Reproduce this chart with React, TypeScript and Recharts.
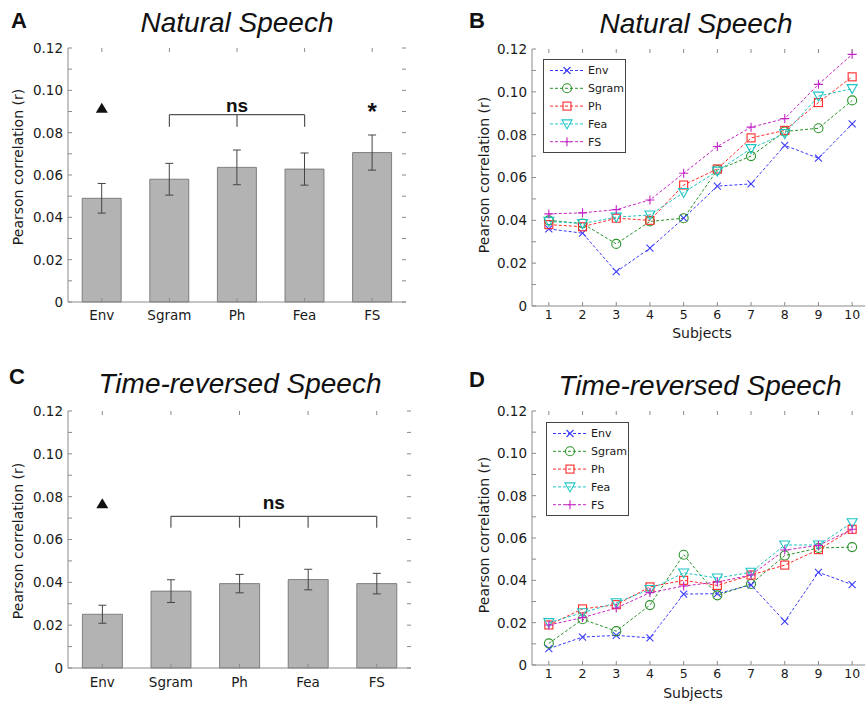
import React from 'react';
import {
  BarChart, Bar, ErrorBar, LineChart, Line, XAxis, YAxis, Legend,
  ReferenceLine, ReferenceDot,
} from 'recharts';

// ---- data ----
const FEATURES = ['Env', 'Sgram', 'Ph', 'Fea', 'FS'];
const NAT_MEAN = [0.049, 0.058, 0.0636, 0.0628, 0.0706];
const NAT_SEM = [0.007, 0.0075, 0.0082, 0.0076, 0.0083];
const REV_MEAN = [0.0251, 0.0359, 0.0394, 0.0413, 0.0394];
const REV_SEM = [0.0042, 0.0053, 0.0043, 0.0048, 0.0048];

const SUBJECTS = [1, 2, 3, 4, 5, 6, 7, 8, 9, 10];
const NAT_ENV = [0.036, 0.034, 0.016, 0.027, 0.041, 0.056, 0.057, 0.075, 0.069, 0.085];
const NAT_SGRAM = [0.04, 0.0385, 0.029, 0.0395, 0.041, 0.0635, 0.07, 0.0815, 0.083, 0.096];
const NAT_PH = [0.038, 0.037, 0.041, 0.04, 0.0565, 0.064, 0.0785, 0.082, 0.095, 0.107];
const NAT_FEA = [0.0395, 0.0385, 0.0415, 0.0425, 0.053, 0.063, 0.0735, 0.0805, 0.098, 0.1015];
const NAT_FS = [0.043, 0.0435, 0.045, 0.0495, 0.062, 0.0745, 0.0835, 0.0875, 0.1035, 0.1175];

const REV_ENV = [0.0077, 0.0132, 0.014, 0.0128, 0.0335, 0.0337, 0.0378, 0.0206, 0.0438, 0.038];
const REV_SGRAM = [0.0102, 0.0216, 0.016, 0.0283, 0.0521, 0.0329, 0.0383, 0.0517, 0.0553, 0.0557];
const REV_PH = [0.0189, 0.0265, 0.0285, 0.0369, 0.04, 0.0376, 0.0425, 0.0472, 0.0545, 0.0641];
const REV_FEA = [0.02, 0.0247, 0.0294, 0.0357, 0.0435, 0.0411, 0.0438, 0.0567, 0.0567, 0.0672];
const REV_FS = [0.0189, 0.0224, 0.0269, 0.0342, 0.0373, 0.0392, 0.0425, 0.0543, 0.0565, 0.0641];

const Y_TICKS = [0, 0.01, 0.02, 0.03, 0.04, 0.05, 0.06, 0.07, 0.08, 0.09, 0.1, 0.11, 0.12];

// significance marks
const NAT_BRACKET = ['Sgram', 'Ph', 'Fea'];
const REV_BRACKET = ['Sgram', 'Ph', 'Fea', 'FS'];

const SERIES = [
  { key: 'Env', color: '#3a3aff', marker: 'x' },
  { key: 'Sgram', color: '#2a922a', marker: 'o' },
  { key: 'Ph', color: '#ff2a2a', marker: 's' },
  { key: 'Fea', color: '#1fc4c4', marker: 'v' },
  { key: 'FS', color: '#c424c4', marker: '+' },
];

const natBars = FEATURES.map((name, i) => ({ name, r: NAT_MEAN[i], err: NAT_SEM[i] }));
const revBars = FEATURES.map((name, i) => ({ name, r: REV_MEAN[i], err: REV_SEM[i] }));

const makeRows = (cols: number[][]) =>
  SUBJECTS.map((s, i) => {
    const row: any = { subject: s };
    SERIES.forEach((ser, j) => { row[ser.key] = cols[j][i]; });
    return row;
  });
const natLines = makeRows([NAT_ENV, NAT_SGRAM, NAT_PH, NAT_FEA, NAT_FS]);
const revLines = makeRows([REV_ENV, REV_SGRAM, REV_PH, REV_FEA, REV_FS]);

const AXIS = '#8a8a8a';
const TXT = '#1a1a1a';
const SANS = 'DejaVu Sans, sans-serif';
const ARIAL = 'Liberation Sans, Arial, sans-serif';
const TICK_MARGIN = 5;

const fmtY = (v: number) => {
  const k = Math.round(v * 100);
  if (k % 2 !== 0) return '';
  return k === 0 ? '0' : v.toFixed(2);
};

// y tick: label plus inner ticks on both sides of the box
const YTick = (props: any) => {
  const { x, y, payload, plotW } = props;
  const ax = x + TICK_MARGIN;
  return (
    <g>
      <text x={x} y={y} dy="0.36em" textAnchor="end" fontSize={13.5} fontFamily={SANS} fill={TXT}>
        {fmtY(payload.value)}
      </text>
      <line x1={ax} x2={ax + 4} y1={y} y2={y} stroke={AXIS} />
      <line x1={ax + plotW - 4} x2={ax + plotW} y1={y} y2={y} stroke={AXIS} />
    </g>
  );
};

const XTick = (props: any) => {
  const { x, y, payload, plotH, margin, fs } = props;
  const ay = y - margin;
  return (
    <g>
      <text x={x} y={y} dy="0.71em" textAnchor="middle" fontSize={fs} fontFamily={SANS} fill={TXT}>
        {payload.value}
      </text>
      <line x1={x} x2={x} y1={ay} y2={ay - 4} stroke={AXIS} />
      <line x1={x} x2={x} y1={ay - plotH} y2={ay - plotH + 4} stroke={AXIS} />
    </g>
  );
};

const Marker = ({ cx, cy, kind, color }: any) => {
  if (cx == null || cy == null) return null;
  const p = { stroke: color, strokeWidth: 1.1, fill: 'none' };
  if (kind === 'x')
    return <path {...p} d={`M${cx - 3.5},${cy - 3.5}L${cx + 3.5},${cy + 3.5}M${cx - 3.5},${cy + 3.5}L${cx + 3.5},${cy - 3.5}`} />;
  if (kind === 'o') return <circle {...p} cx={cx} cy={cy} r={4.5} />;
  if (kind === 's') return <rect {...p} x={cx - 4} y={cy - 4} width={8} height={8} />;
  if (kind === 'v') return <path {...p} d={`M${cx - 5},${cy - 4}L${cx + 5},${cy - 4}L${cx},${cy + 5}Z`} />;
  return <path {...p} d={`M${cx - 4.5},${cy}L${cx + 4.5},${cy}M${cx},${cy - 4.5}L${cx},${cy + 4.5}`} />;
};

const LegendBox = () => (
  <svg width={83} height={94} style={{ display: 'block' }}>
    <rect x={0.5} y={0.5} width={82} height={93} fill="#fff" stroke="#444" />
    {SERIES.map((s, i) => {
      const y = 11.5 + i * 17.8;
      return (
        <g key={s.key}>
          <line x1={7} x2={42} y1={y} y2={y} stroke={s.color} strokeDasharray="3 2" />
          <Marker cx={24} cy={y} kind={s.marker} color={s.color} />
          <text x={45} y={y} dy="0.36em" fontSize={11} fontFamily={SANS} fill={TXT}>{s.key}</text>
        </g>
      );
    })}
  </svg>
);

const Triangle = ({ cx, cy }: any) => (
  <path d={`M${cx - 6},${cy + 5}L${cx + 6},${cy + 5}L${cx},${cy - 5}Z`} fill="#111" />
);
const Star = ({ cx, cy }: any) => (
  <text x={cx} y={cy + 13} textAnchor="middle" fontSize={24} fontWeight="bold" fontFamily={ARIAL} fill="#111">*</text>
);

type BarPanelProps = {
  data: any[]; width: number; height: number; margin: any; xh: number; xm: number;
  bracket: string[]; bracketY: number; tickY: number; nsOffset: number; triY: number; starY?: number;
};

const BarPanel = ({ data, width, height, margin, xh, xm, bracket, bracketY, tickY, nsOffset, triY, starY }: BarPanelProps) => {
  const plotW = width - margin.left - margin.right - 40;
  const plotH = height - margin.top - xh;
  return (
    <BarChart width={width} height={height} data={data} margin={margin} barCategoryGap="21%">
      <XAxis dataKey="name" height={xh} tickSize={0} tickMargin={xm} tickLine={false} stroke={AXIS}
        tick={(p: any) => <XTick {...p} plotH={plotH} margin={xm} fs={13.5} />} interval={0} />
      <XAxis xAxisId="top" dataKey="name" orientation="top" height={0} tick={false} tickLine={false} stroke={AXIS} />
      <YAxis width={40} domain={[0, 0.12]} ticks={Y_TICKS} interval={0} tickSize={0} tickMargin={TICK_MARGIN}
        tickLine={false} stroke={AXIS} tick={(p: any) => <YTick {...p} plotW={plotW} />} />
      <YAxis yAxisId="r" orientation="right" width={0} domain={[0, 0.12]} tick={false} tickLine={false} stroke={AXIS} />
      <Bar dataKey="r" fill="#b3b3b3" stroke="#6a6a6a" strokeWidth={0.8} isAnimationActive={false}>
        <ErrorBar dataKey="err" width={4} stroke="#444" strokeWidth={1} isAnimationActive={false} />
      </Bar>
      <ReferenceLine
        segment={[{ x: bracket[0], y: bracketY }, { x: bracket[bracket.length - 1], y: bracketY }]}
        stroke="#555" strokeWidth={1.2}
        label={{ value: 'ns', position: 'top', offset: nsOffset, fontSize: 19, fontWeight: 'bold', fontFamily: ARIAL, fill: '#111' }}
      />
      {bracket.map((c) => (
        <ReferenceLine key={c} segment={[{ x: c, y: bracketY }, { x: c, y: tickY }]} stroke="#555" strokeWidth={1.2} />
      ))}
      <ReferenceDot x={FEATURES[0]} y={triY} r={0} shape={(p: any) => <Triangle {...p} />} />
      {starY != null && (
        <ReferenceDot x={FEATURES[FEATURES.length - 1]} y={starY} r={0} shape={(p: any) => <Star {...p} />} />
      )}
    </BarChart>
  );
};

const LinePanel = ({ data, width, height, margin, xh, legendPos }: any) => {
  const plotW = width - margin.left - margin.right - 40;
  const plotH = height - margin.top - xh;
  return (
    <LineChart width={width} height={height} data={data} margin={margin}>
      <XAxis dataKey="subject" type="number" domain={[0.5, 10.5]} ticks={SUBJECTS} interval={0} allowDataOverflow
        height={xh} tickSize={0} tickMargin={4} tickLine={false} stroke={AXIS}
        tick={(p: any) => <XTick {...p} plotH={plotH} margin={4} fs={12.5} />} />
      <XAxis xAxisId="top" dataKey="subject" type="number" domain={[0.5, 10.5]} orientation="top" height={0}
        tick={false} tickLine={false} stroke={AXIS} />
      <YAxis width={40} domain={[0, 0.12]} ticks={Y_TICKS} interval={0} tickSize={0} tickMargin={TICK_MARGIN}
        tickLine={false} stroke={AXIS} tick={(p: any) => <YTick {...p} plotW={plotW} />} />
      <YAxis yAxisId="r" orientation="right" width={0} domain={[0, 0.12]} tick={false} tickLine={false} stroke={AXIS} />
      {SERIES.map((s) => (
        <Line key={s.key} type="linear" dataKey={s.key} stroke={s.color} strokeWidth={1} strokeDasharray="3 2"
          activeDot={false} isAnimationActive={false}
          dot={(p: any) => <Marker key={`${s.key}-${p.index}`} cx={p.cx} cy={p.cy} kind={s.marker} color={s.color} />} />
      ))}
      <Legend layout="vertical" align="center" verticalAlign="middle" content={() => <LegendBox />}
        wrapperStyle={{ left: legendPos[0], top: legendPos[1], width: 83, height: 94 }} />
    </LineChart>
  );
};

const abs = (left: number, top: number): React.CSSProperties => ({ position: 'absolute', left, top });

export default function App() {
  const yLabel = 'Pearson correlation (r)';
  return (
    <div style={{ position: 'absolute', left: 0, top: 0, width: 865, height: 701, overflow: 'hidden', background: '#fff' }}>
      <div style={abs(0, 0)}>
        <BarPanel data={natBars} width={430} height={340} margin={{ top: 48, right: 24, bottom: 0, left: 28 }}
          xh={38} xm={8} bracket={NAT_BRACKET} bracketY={0.0885} tickY={0.0828} nsOffset={3} triY={0.0918} starY={0.092} />
      </div>
      <div style={abs(0, 340)}>
        <BarPanel data={revBars} width={430} height={360} margin={{ top: 71, right: 19, bottom: 0, left: 28 }}
          xh={32} xm={9} bracket={REV_BRACKET} bracketY={0.0708} tickY={0.0655} nsOffset={7} triY={0.0769} />
      </div>
      <div style={abs(430, 0)}>
        <LinePanel data={natLines} width={439} height={340} margin={{ top: 49, right: 0, bottom: 0, left: 62 }}
          xh={34} legendPos={[113, 59]} />
      </div>
      <div style={abs(430, 360)}>
        <LinePanel data={revLines} width={439} height={340} margin={{ top: 51, right: 0, bottom: 0, left: 62 }}
          xh={35} legendPos={[116, 62]} />
      </div>
      <svg width={865} height={701} style={{ ...abs(0, 0), pointerEvents: 'none' }}>
        <g fontFamily={ARIAL} fontWeight="bold" fontSize={22} fill="#111">
          <text x={11} y={28}>A</text>
          <text x={469} y={28}>B</text>
          <text x={9} y={384}>C</text>
          <text x={469} y={387}>D</text>
        </g>
        <g fontFamily={ARIAL} fontStyle="italic" fontSize={28} fill="#111" textAnchor="middle">
          <text x={237} y={32}>Natural Speech</text>
          <text x={696} y={33}>Natural Speech</text>
          <text x={240} y={393}>Time-reversed Speech</text>
          <text x={700} y={395}>Time-reversed Speech</text>
        </g>
        <g fontFamily={SANS} fontSize={14} fill={TXT} textAnchor="middle">
          <text transform="translate(23,167) rotate(-90)">{yLabel}</text>
          <text transform="translate(23,541) rotate(-90)">{yLabel}</text>
          <text transform="translate(489,175) rotate(-90)">{yLabel}</text>
          <text transform="translate(489,535) rotate(-90)">{yLabel}</text>
          <text x={702} y={338}>Subjects</text>
          <text x={693} y={698}>Subjects</text>
        </g>
      </svg>
    </div>
  );
}
